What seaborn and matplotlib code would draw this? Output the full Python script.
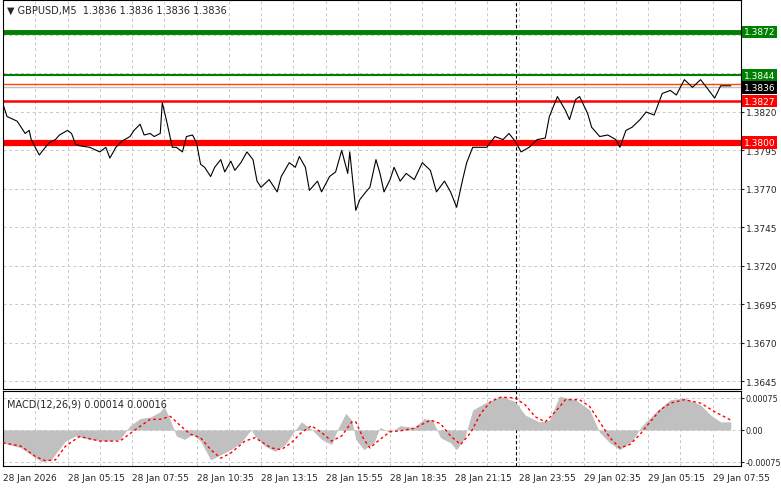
import matplotlib
matplotlib.use("Agg")
import matplotlib.pyplot as plt
import seaborn as sns
import numpy as np

sns.set_style("white")
plt.rcParams['font.family'] = ['DejaVu Sans']

price_bars = [0,2,7,11,13,14,18,21,23,26,28,32,34,36,38,43,48,51,53,56,59,63,65,68,70,73,75,78,79,81,84,86,89,91,94,96,98,100,103,105,108,110,113,115,118,121,124,126,128,132,136,138,142,145,147,150,152,156,158,162,165,168,171,172,175,177,180,182,185,187,189,192,194,197,200,204,208,212,215,219,222,225,228,230,233,237,240,244,248,251,254,257,261,265,269,271,275,279,281,284,286,290,292,296,300,304,306,309,312,316,319,323,327,331,334,338,342,346,349,353,356,361]
price_vals = [1.3825,1.3817,1.3814,1.3806,1.3808,1.3802,1.3792,1.3797,1.3800,1.3802,1.3805,1.3808,1.3806,1.3799,1.3798,1.3797,1.3794,1.3797,1.3790,1.3797,1.3801,1.3804,1.3808,1.3812,1.3805,1.3806,1.3804,1.3806,1.3826,1.3815,1.3797,1.3797,1.3794,1.3804,1.3805,1.3800,1.3786,1.3784,1.3778,1.3784,1.3789,1.3781,1.3788,1.3782,1.3787,1.3794,1.3789,1.3775,1.3771,1.3776,1.3768,1.3778,1.3787,1.3784,1.3791,1.3784,1.3769,1.3775,1.3768,1.3778,1.3781,1.3795,1.3780,1.3794,1.3756,1.3763,1.3768,1.3771,1.3789,1.3780,1.3768,1.3776,1.3784,1.3775,1.3780,1.3776,1.3787,1.3782,1.3768,1.3775,1.3768,1.3758,1.3776,1.3787,1.3797,1.3797,1.3797,1.3804,1.3802,1.3806,1.3801,1.3794,1.3797,1.3802,1.3803,1.3817,1.3830,1.3821,1.3815,1.3828,1.3830,1.3819,1.3810,1.3804,1.3805,1.3802,1.3797,1.3808,1.3810,1.3815,1.3820,1.3818,1.3832,1.3834,1.3831,1.3841,1.3836,1.3841,1.3836,1.3829,1.3837,1.3837]

hist_bars = [0,9,14,19,24,27,31,36,43,51,58,63,68,73,78,80,83,86,90,94,98,103,108,113,118,123,125,130,135,140,144,148,153,158,163,166,170,173,175,179,184,187,192,197,204,209,213,217,222,225,229,233,239,247,254,259,266,271,276,284,291,296,301,306,312,317,324,331,338,346,351,356,361]
hist_vals = [-0.0003,-0.00042,-0.00058,-0.00074,-0.0007,-0.0005,-0.00026,-0.00014,-0.00022,-0.00026,-0.00022,0.0001,0.00027,0.0003,0.00043,0.00055,0.00023,-0.00014,-0.00022,-0.0001,-0.00026,-0.0007,-0.00058,-0.00046,-0.0003,0.0,-0.00014,-0.00038,-0.0005,-0.00034,-0.00006,0.00019,0.00002,-0.00022,-0.00034,0.00002,0.00039,0.00023,-0.00022,-0.00046,-0.0003,0.00006,-0.00006,0.0001,0.00006,0.00027,0.00023,-0.00018,-0.0003,-0.00046,-0.00018,0.00047,0.00063,0.00079,0.00067,0.00035,0.00019,0.00023,0.00079,0.00071,0.00047,-0.00006,-0.0003,-0.00046,-0.00026,0.0001,0.00043,0.00071,0.00075,0.00059,0.00035,0.00019,0.00019]

sig_bars = [0,9,16,21,26,31,38,48,58,66,73,78,83,88,93,98,103,108,113,120,125,133,138,143,148,153,158,163,168,173,175,179,182,187,192,197,204,212,217,222,227,232,237,242,247,254,259,264,269,274,279,286,291,296,301,306,311,316,321,326,331,338,346,353,361]
sig_vals = [-0.0003,-0.00038,-0.00062,-0.00072,-0.0007,-0.00038,-0.00015,-0.00026,-0.00026,0.00002,0.00025,0.00025,0.00032,0.0001,-0.0001,-0.00018,-0.00046,-0.00066,-0.00054,-0.00026,-0.00018,-0.00042,-0.00046,-0.0003,-0.00006,0.0001,-0.00006,-0.00026,-0.00014,0.00019,0.00019,-0.00022,-0.00042,-0.00022,-0.00004,-0.00002,0.00004,0.00023,0.00015,-0.00014,-0.00034,-0.00006,0.00039,0.00067,0.00077,0.00075,0.00059,0.00031,0.00019,0.00043,0.00071,0.00071,0.00055,0.00019,-0.00018,-0.00042,-0.00034,-0.0001,0.00019,0.00047,0.00063,0.00071,0.00063,0.00043,0.00023]

price_ticks = [1.3820,1.3795,1.3770,1.3745,1.3720,1.3695,1.3670,1.3645]
grid_prices = [1.3870,1.3845] + price_ticks
date_labels = ["28 Jan 2026","28 Jan 05:15","28 Jan 07:55","28 Jan 10:35","28 Jan 13:15","28 Jan 15:55","28 Jan 18:35","28 Jan 21:15","28 Jan 23:55","29 Jan 02:35","29 Jan 05:15","29 Jan 07:55"]
levels = [(1.3872,"#008000",3.5,"1.3872"),(1.3844,"#008000",1.5,"1.3844"),(1.3838,"#ff4500",1.0,None),(1.3836,"#c0c0c0",1.0,"1.3836"),(1.3827,"#ff0000",1.8,"1.3827"),(1.3800,"#ff0000",4.5,"1.3800")]
tag_colors = {"1.3872":"#008000","1.3844":"#008000","1.3836":"#000000","1.3827":"#ff0000","1.3800":"#ff0000"}

W, H = 781, 489
fig = plt.figure(figsize=(W/100, H/100), dpi=100)
ax = fig.add_axes([3/W, (H-390)/H, 738/W, 389/H])
ax2 = fig.add_axes([3/W, (H-467)/H, 738/W, 75/H])
XMAX = 738/2.016

for a in (ax, ax2):
    a.set_xlim(0, XMAX)
    for s in a.spines.values():
        s.set_color("black"); s.set_linewidth(0.8)
    for b in range(16, int(XMAX), 16):
        a.axvline(b, color="#c8c8c8", ls=(0, (3, 3)), lw=0.7, zorder=0)
    a.axvline(254.5, color="black", ls=(0, (3, 2)), lw=0.8, zorder=1)
    a.yaxis.tick_right()
    a.tick_params(axis="y", labelsize=6.5, length=2, pad=1.5, right=True, direction="out")
ax2.tick_params(axis="y", labelsize=5.8, pad=1)

ax.set_ylim(1.36398, 1.38928)
for g in grid_prices:
    ax.axhline(g, color="#c8c8c8", ls=(0, (3, 3)), lw=0.7, zorder=0)
ax.set_yticks(price_ticks)
ax.set_yticklabels([f"{p:.4f}" for p in price_ticks])
ax.set_xticks([])
for val, col, lw, lab in levels:
    ax.axhline(val, color=col, lw=lw, zorder=2)
    if lab:
        ax.text(1.004, val, lab, transform=ax.get_yaxis_transform(), fontsize=6.5, color="white",
                va="center", ha="left", zorder=5,
                bbox=dict(boxstyle="square,pad=0.2", fc=tag_colors[lab], ec="none"))
sns.lineplot(x=price_bars, y=price_vals, ax=ax, color="black", lw=0.8, zorder=3)
ax.text(4/738, 1-10/389, "▼ GBPUSD,M5  1.3836 1.3836 1.3836 1.3836", transform=ax.transAxes,
        fontsize=7, va="center", ha="left")

ax2.set_ylim(-0.000844, 0.000914)
ax2.fill_between(hist_bars, 0, hist_vals, color="#c0c0c0", lw=0, zorder=2)
sns.lineplot(x=sig_bars, y=sig_vals, ax=ax2, color="red", lw=1.0, ls=(0, (2, 2)), zorder=3)
ax2.axhline(0.00075, color="#c8c8c8", ls=(0, (3, 3)), lw=0.7, zorder=0)
ax2.axhline(0.0, color="#c8c8c8", ls=(0, (3, 3)), lw=0.7, zorder=0)
ax2.axhline(-0.00075, color="#c8c8c8", ls=(0, (3, 3)), lw=0.7, zorder=0)
ax2.set_yticks([0.00075, 0.0, -0.00075])
ax2.set_yticklabels(["0.00075", "0.00", "-0.00075"])
ax2.set_xticks([32*i for i in range(len(date_labels))])
ax2.set_xticklabels(date_labels, fontsize=6.5, ha="left")
ax2.tick_params(axis="x", length=3, pad=2, direction="out")
ax2.text(4/738, 1-13/75, "MACD(12,26,9) 0.00014 0.00016", transform=ax2.transAxes,
         fontsize=7, va="center", ha="left")

fig.savefig("out.png", dpi=100, facecolor="white")
